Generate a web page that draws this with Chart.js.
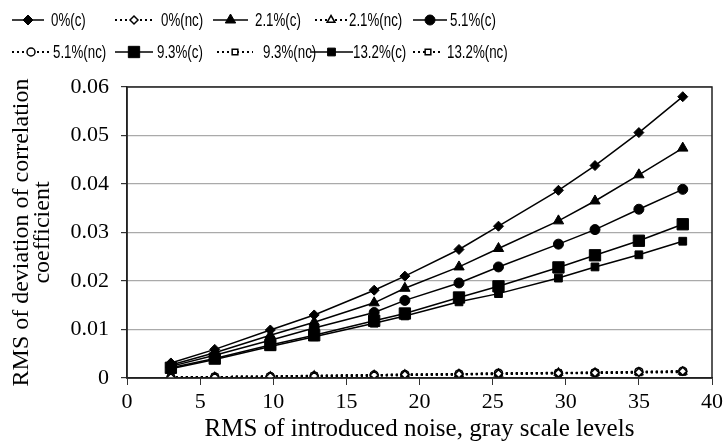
<!DOCTYPE html>
<html>
<head>
<meta charset="utf-8">
<script src="https://cdn.jsdelivr.net/npm/chart.js@4.4.1/dist/chart.umd.min.js"></script>
<style>
  html, body { margin: 0; padding: 0; background: #fff; }
  #wrap { width: 727px; height: 445px; }
</style>
</head>
<body>
<div id="wrap"><canvas id="noiseChart"></canvas></div>
<script>
// noise levels (x) shared by every series
const noiseRms = [3.0, 6.0, 9.8, 12.8, 16.9, 19.0, 22.7, 25.4, 29.5, 32.0, 35.0, 38.0];

// corrected (c) series
const c0   = [0.0031, 0.0059, 0.0099, 0.0130, 0.0181, 0.0210, 0.0265, 0.0313, 0.0387, 0.0438, 0.0506, 0.0580];
const c2_1 = [0.0027, 0.0052, 0.0088, 0.0115, 0.0155, 0.0185, 0.0229, 0.0267, 0.0324, 0.0365, 0.0419, 0.0474];
const c5_1 = [0.0024, 0.0047, 0.0078, 0.0103, 0.0135, 0.0160, 0.0196, 0.0229, 0.0276, 0.0306, 0.0348, 0.0389];
const c9_3 = [0.0021, 0.0040, 0.0068, 0.0088, 0.0118, 0.0133, 0.0166, 0.0189, 0.0228, 0.0253, 0.0283, 0.0317];
const c13_2 = [0.0019, 0.0038, 0.0065, 0.0085, 0.0113, 0.0128, 0.0157, 0.0174, 0.0206, 0.0229, 0.0254, 0.0282];

// not corrected (nc) series
const nc0   = [0.0001, 0.0002, 0.0003, 0.0004, 0.0006, 0.0007, 0.0008, 0.0009, 0.0010, 0.0011, 0.0012, 0.0014];
const nc2_1 = [0.0001, 0.0002, 0.0003, 0.0005, 0.0006, 0.0007, 0.0008, 0.0009, 0.0011, 0.0011, 0.0012, 0.0013];
const nc5_1 = [0.0001, 0.0002, 0.0003, 0.0004, 0.0006, 0.0007, 0.0008, 0.0010, 0.0010, 0.0011, 0.0013, 0.0014];
const nc9_3 = [0.0001, 0.0002, 0.0003, 0.0004, 0.0005, 0.0006, 0.0008, 0.0009, 0.0010, 0.0011, 0.0012, 0.0013];
const nc13_2 = [0.0001, 0.0002, 0.0003, 0.0004, 0.0005, 0.0006, 0.0007, 0.0008, 0.0010, 0.0010, 0.0011, 0.0012];

const seriesLabels = ["0%(c)", "0%(nc)", "2.1%(c)", "2.1%(nc)", "5.1%(c)",
                      "5.1%(nc)", "9.3%(c)", "9.3%(nc)", "13.2%(c)", "13.2%(nc)"];
const yTickLabels = ["0", "0.01", "0.02", "0.03", "0.04", "0.05", "0.06"];
const xTickLabels = ["0", "5", "10", "15", "20", "25", "30", "35", "40"];

const serif = "'Liberation Serif', 'Times New Roman', serif";

function pts(values) {
    return values.map((v, i) => ({ x: noiseRms[i], y: v }));
}

function solid(label, values, style, radius) {
    return {
        label: label, data: pts(values),
        borderColor: "#000", borderWidth: 1.5,
        pointStyle: style, pointRadius: radius,
        pointBackgroundColor: "#000", pointBorderColor: "#000", pointBorderWidth: 1
    };
}

function dotted(label, values, style, radius) {
    return {
        label: label, data: pts(values),
        borderColor: "#000", borderWidth: 2, borderDash: [2, 3],
        pointStyle: style, pointRadius: radius,
        pointBackgroundColor: "#fff", pointBorderColor: "#000", pointBorderWidth: 1.5
    };
}

const datasets = [
    solid(seriesLabels[0], c0, "rectRot", 5),
    dotted(seriesLabels[1], nc0, "rectRot", 4),
    solid(seriesLabels[2], c2_1, "triangle", 6),
    dotted(seriesLabels[3], nc2_1, "triangle", 4.5),
    solid(seriesLabels[4], c5_1, "circle", 5),
    dotted(seriesLabels[5], nc5_1, "circle", 4),
    solid(seriesLabels[6], c9_3, "rect", 8),
    dotted(seriesLabels[7], nc9_3, "rect", 4),
    solid(seriesLabels[8], c13_2, "rect", 5.5),
    dotted(seriesLabels[9], nc13_2, "rect", 4)
];

// legend drawn by hand: two rows of five, line sample with marker then label
const legendPlugin = {
    id: "twoRowLegend",
    afterDraw(chart) {
        const ctx = chart.ctx;
        const lineX0 = [[12, 115, 213, 315, 413], [12, 115, 217, 310, 413]];
        const lineX1 = [[44, 153, 248, 347, 447], [50, 153, 253, 353, 443]];
        const textX  = [[51, 161, 255, 349, 450], [53, 157, 263, 353, 447]];
        const rowY = [20, 52];
        chart.data.datasets.forEach((ds, i) => {
            const row = Math.floor(i / 5), col = i % 5;
            const y = rowY[row];
            const x0 = lineX0[row][col], x1 = lineX1[row][col];
            ctx.save();
            ctx.strokeStyle = "#000";
            ctx.lineWidth = ds.borderWidth;
            ctx.setLineDash(ds.borderDash || []);
            ctx.beginPath();
            ctx.moveTo(x0, y);
            ctx.lineTo(x1, y);
            ctx.stroke();
            ctx.setLineDash([]);
            // drawPoint fills/strokes with the current context state
            ctx.fillStyle = ds.pointBackgroundColor;
            ctx.strokeStyle = ds.pointBorderColor;
            ctx.lineWidth = ds.pointBorderWidth;
            Chart.helpers.drawPoint(ctx, {
                pointStyle: ds.pointStyle, radius: ds.pointRadius,
                borderWidth: ds.pointBorderWidth, rotation: 0
            }, (x0 + x1) / 2, y);
            ctx.restore();

            // narrow sans label
            ctx.save();
            ctx.fillStyle = "#000";
            ctx.font = "19px 'Liberation Sans', Arial, sans-serif";
            ctx.textBaseline = "middle";
            ctx.translate(textX[row][col], y + 1);
            ctx.scale(0.7, 1);
            ctx.fillText(ds.label, 0, 0);
            ctx.restore();
        });
    }
};

// dark frame around the plot area
const framePlugin = {
    id: "plotFrame",
    afterDatasetsDraw(chart) {
        const a = chart.chartArea, ctx = chart.ctx;
        ctx.save();
        ctx.strokeStyle = "#222";
        ctx.lineWidth = 1.5;
        ctx.strokeRect(a.left, a.top, a.right - a.left, a.bottom - a.top);
        ctx.restore();
    }
};

const ctx = document.getElementById("noiseChart").getContext("2d");
new Chart(ctx, {
    type: "line",
    data: { datasets: datasets },
    options: {
        responsive: true,
        maintainAspectRatio: false,
        animation: false,
        layout: { padding: { top: 87, right: 12, left: 0, bottom: 0 } },
        plugins: { legend: { display: false }, tooltip: { enabled: false } },
        scales: {
            x: {
                type: "linear", min: 0, max: 40,
                ticks: {
                    stepSize: 5, color: "#000", padding: 4,
                    font: { family: serif, size: 22 },
                    callback: (v, i) => xTickLabels[i]
                },
                grid: { drawOnChartArea: false, tickLength: 7, tickColor: "#333" },
                border: { color: "#222", width: 1.5 },
                title: {
                    display: true, text: "RMS of introduced noise, gray scale levels", color: "#000",
                    font: { family: serif, size: 25 },
                    padding: { top: 0, bottom: 1 }
                },
                afterFit: (scale) => { scale.height = 67; }
            },
            y: {
                min: 0, max: 0.06,
                ticks: {
                    stepSize: 0.01, color: "#000", padding: 12,
                    font: { family: serif, size: 22 },
                    callback: (v, i) => yTickLabels[i]
                },
                grid: { color: "#aaa", lineWidth: 1.2, tickLength: 6, tickColor: "#333" },
                border: { color: "#222", width: 1.5 },
                title: {
                    display: true, text: ["RMS of deviation of correlation", "coefficient"], color: "#000",
                    font: { family: serif, size: 24, lineHeight: 0.88 },
                    padding: { top: 11, bottom: 0 }
                },
                afterFit: (scale) => { scale.width = 127; }
            }
        }
    },
    plugins: [framePlugin, legendPlugin]
});
</script>
</body>
</html>
